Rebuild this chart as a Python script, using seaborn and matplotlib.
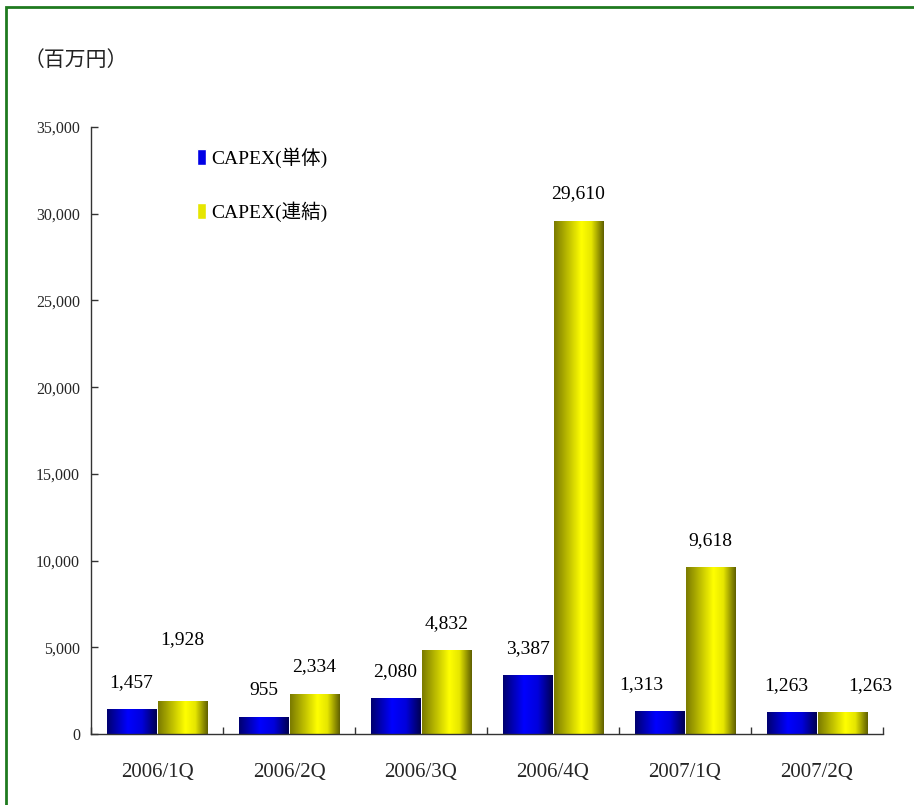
import matplotlib
matplotlib.use("Agg")
import matplotlib.pyplot as plt
import matplotlib.ticker as mticker
from matplotlib.colors import LinearSegmentedColormap
from matplotlib.patches import Rectangle, Patch
import seaborn as sns
import pandas as pd
import numpy as np

# data
quarters = ["2006/1Q", "2006/2Q", "2006/3Q", "2006/4Q", "2007/1Q", "2007/2Q"]
capex_single = [1457, 955, 2080, 3387, 1313, 1263]
capex_consol = [1928, 2334, 4832, 29610, 9618, 1263]
series_names = ["CAPEX(単体)", "CAPEX(連結)"]
y_ticks = [0, 5000, 10000, 15000, 20000, 25000, 30000, 35000]

df = pd.DataFrame({
    "quarter": quarters * 2,
    "value": capex_single + capex_consol,
    "series": [series_names[0]] * len(quarters) + [series_names[1]] * len(quarters),
})

sns.set_theme(style="white")
plt.rcParams["font.family"] = ["Liberation Serif", "Noto Sans CJK JP"]
plt.rcParams["text.color"] = "black"

fig = plt.figure(figsize=(9.14, 8.05), dpi=100)
ax = fig.add_axes([0.0996, 0.0882, 0.8665, 0.754])

sns.barplot(data=df, x="quarter", y="value", hue="series", order=quarters,
            hue_order=series_names, palette=["#0000e6", "#e6e600"], saturation=1,
            width=0.77, gap=0.035, errorbar=None, legend=False, ax=ax)

# cylinder-like shading on each bar
blue_cmap = LinearSegmentedColormap.from_list(
    "blue_bar", [(0, "#00006e"), (0.42, "#0000ff"), (0.7, "#0000dc"), (1, "#000050")])
yellow_cmap = LinearSegmentedColormap.from_list(
    "yellow_bar", [(0, "#7a7a00"), (0.55, "#ffff00"), (0.75, "#e6e600"), (1, "#5f5f00")])
grad = np.linspace(0, 1, 256).reshape(1, -1)
for container, cmap in zip(ax.containers, [blue_cmap, yellow_cmap]):
    for bar in container:
        x0, w, h = bar.get_x(), bar.get_width(), bar.get_height()
        img = ax.imshow(grad, cmap=cmap, aspect="auto", extent=(x0, x0 + w, 0, h),
                        zorder=bar.get_zorder() + 0.1, interpolation="bilinear")
        img.set_clip_path(bar)

ax.set_xlim(-0.5, len(quarters) - 0.5)
ax.set_ylim(0, 35000)

# value labels
labels = []
for container, vals in zip(ax.containers, [capex_single, capex_consol]):
    labels.append(ax.bar_label(container, labels=[f"{v:,}" for v in vals],
                               padding=13, fontsize=14))
# a few labels sit off-centre in the original
nudges = {(1, 0): (0, 25), (0, 4): (-13, 0), (0, 5): (-4, 0), (1, 5): (20, 0)}
for (s, i), (dx, dy) in nudges.items():
    x, y = labels[s][i].xyann
    labels[s][i].xyann = (x + dx, y + dy)

# axes styling
ax.set_xlabel("")
ax.set_ylabel("")
ax.set_yticks(y_ticks)
ax.yaxis.set_major_formatter(mticker.StrMethodFormatter("{x:,.0f}"))
ax.tick_params(axis="y", left=True, direction="in", length=5, width=1,
               color="#333333", pad=8, labelsize=11.5)
ax.set_xticks(np.arange(-0.5, len(quarters)), minor=True)
ax.tick_params(axis="x", which="minor", bottom=True, direction="in", length=5,
               width=1, color="#333333")
ax.tick_params(axis="x", which="major", bottom=False, length=0, pad=21, labelsize=15)
for side in ["top", "right"]:
    ax.spines[side].set_visible(False)
for side in ["left", "bottom"]:
    ax.spines[side].set_color("#333333")
    ax.spines[side].set_linewidth(1)

handles = [Patch(facecolor="#0000e6"), Patch(facecolor="#e6e600")]
ax.legend(handles, series_names, loc="upper left", bbox_to_anchor=(0.134, 0.967),
          frameon=False, fontsize=14, handlelength=0.45, handleheight=0.9,
          handletextpad=0.25, labelspacing=1.75, borderaxespad=0, borderpad=0)

fig.text(0.026, 0.925, "（百万円）", family="Noto Sans CJK JP", fontsize=15,
         va="center", ha="left", color="#222222")

# green frame around the whole chart
fig.add_artist(Rectangle((0.0066, -0.05), 1.05, 1.041, transform=fig.transFigure,
                         fill=False, edgecolor="#1f7a1f", linewidth=2.0))

fig.savefig("out.png", dpi=100)
plt.close(fig)
